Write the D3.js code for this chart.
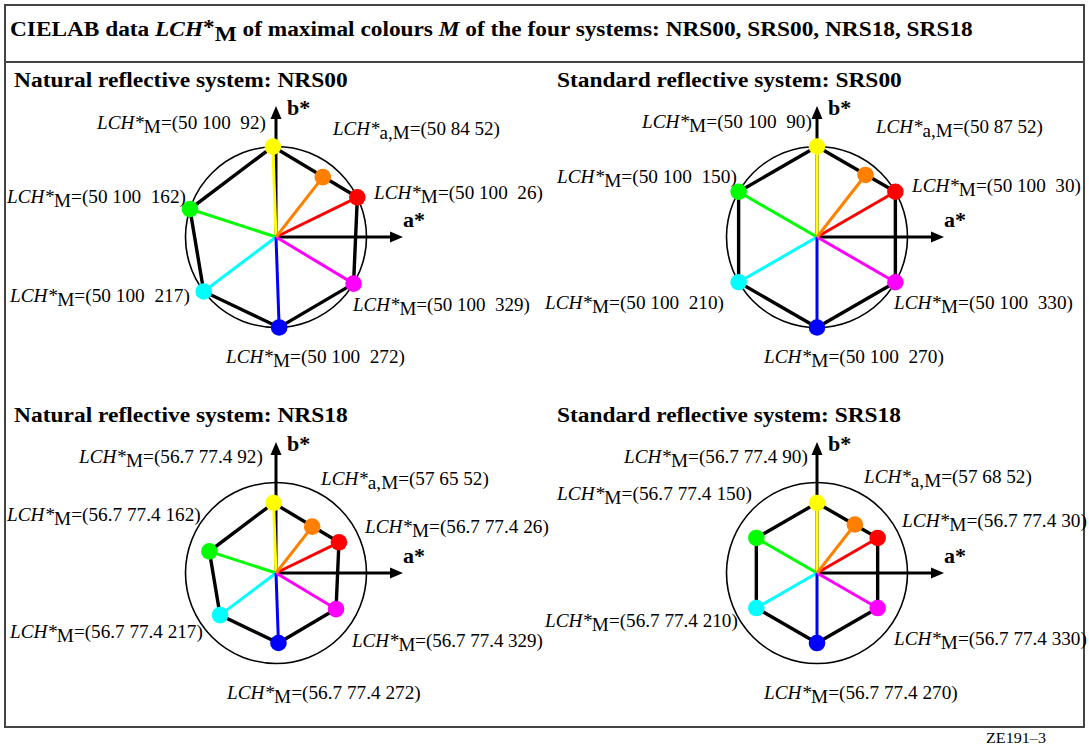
<!DOCTYPE html>
<html><head><meta charset="utf-8">
<script src="https://cdn.jsdelivr.net/npm/d3@7"></script>
<style>
body{margin:0;background:#fff}
text{font-family:"Liberation Serif","Times New Roman",serif; white-space:pre}
</style>
</head><body><svg id="c" width="1089" height="746"></svg>
<script>
// ---------- data ----------
const systems = ["NRS00", "SRS00", "NRS18", "SRS18"];
const systemTitles = ["Natural reflective system: NRS00", "Standard reflective system: SRS00",
                      "Natural reflective system: NRS18", "Standard reflective system: SRS18"];
const colourNames = ["red", "yellow", "green", "cyan", "blue", "magenta"];
const colourFills = ["#ff0000", "#ffff00", "#00ff00", "#00ffff", "#0000ff", "#ff00ff"];
const lightness = [50, 50, 56.7, 56.7];
const chroma = [100, 100, 77.4, 77.4];
const hueNRS00 = [26, 92, 162, 217, 272, 329];
const hueSRS00 = [30, 90, 150, 210, 270, 330];
const hueNRS18 = [26, 92, 162, 217, 272, 329];
const hueSRS18 = [30, 90, 150, 210, 270, 330];
const hues = [hueNRS00, hueSRS00, hueNRS18, hueSRS18];
const valueSeparators = ["  ", "  ", " ", " "];
const orangeL = [50, 50, 57, 57];
const orangeC = [84, 87, 65, 68];
const orangeH = [52, 52, 52, 52];
const orangeFill = "#ff8000";
const circleChroma = 100;

// ---------- layout ----------
const centers = [[276, 237], [817, 237], [276, 573], [817, 573]];
const pxPer100 = 90.5;
const aExtent = 127, bExtent = 131;
const titleBase = [[14, 87, 334], [557, 87, 345], [14, 422, 334], [557, 422, 344]];
// label offsets from centre: [dx, baseline dy, width] in order red,yellow,green,cyan,blue,magenta,orange
const labelLayout = [
  [[98, -38, 169], [-179, -108, 169], [-269, -34, 179], [-266, 65, 180], [-50, 126, 179], [77, 74, 177], [57, -102, 167]],
  [[95, -45, 169], [-175, -109, 170], [-260, -54, 180], [-272, 72, 179], [-53, 126, 180], [77, 72, 179], [59, -104, 167]],
  [[89, -40, 184], [-197, -110, 184], [-269, -52, 194], [-266, 65, 193], [-49, 126, 194], [76, 74, 191], [45, -88, 168]],
  [[85, -46, 185], [-193, -110, 184], [-260, -73, 195], [-272, 54, 193], [-53, 126, 194], [77, 72, 193], [47, -90, 168]]
];

const svg = d3.select("#c");

function fit(sel, x0, w) {
  const len = sel.node().getComputedTextLength();
  const k = w / len;
  sel.attr("transform", `translate(${x0},0) scale(${k},1) translate(${-x0},0)`);
}

// frame
svg.append("rect").attr("x", 5).attr("y", 5).attr("width", 1079).attr("height", 722)
  .attr("fill", "none").attr("stroke", "#444").attr("stroke-width", 2);
svg.append("line").attr("x1", 5).attr("x2", 1084).attr("y1", 62).attr("y2", 62)
  .attr("stroke", "#444").attr("stroke-width", 2);

// main title
const title = svg.append("text").attr("x", 10).attr("y", 36).attr("font-size", 20).attr("font-weight", "bold");
title.append("tspan").text("CIELAB data ");
title.append("tspan").attr("font-style", "italic").text("LCH");
title.append("tspan").attr("dy", -2).text("*");
title.append("tspan").attr("dy", 7).text("M");
title.append("tspan").attr("dy", -5).text(" of maximal colours ");
title.append("tspan").attr("font-style", "italic").text("M");
title.append("tspan").text(" of the four systems: " + systems.join(", "));
fit(title, 10, 963);

// footer code
const foot = svg.append("text").attr("x", 986).attr("y", 743).attr("font-size", 15).text("ZE191\u20133");
fit(foot, 986, 60);

function label(g, x, y, w, sub, value) {
  const t = g.append("text").attr("x", x).attr("y", y).attr("font-size", 18);
  t.append("tspan").attr("font-style", "italic").text("LCH*");
  t.append("tspan").attr("dy", 4).text(sub);
  t.append("tspan").attr("dy", -4).text("=" + value);
  fit(t, x, w);
}

systems.forEach((sys, i) => {
  const [cx, cy] = centers[i];
  const x = d3.scaleLinear().domain([-100, 100]).range([cx - pxPer100, cx + pxPer100]);
  const y = d3.scaleLinear().domain([-100, 100]).range([cy + pxPer100, cy - pxPer100]);
  const g = svg.append("g");
  const rad = Math.PI / 180;
  const pts = hues[i].map(h => [x(chroma[i] * Math.cos(h * rad)), y(chroma[i] * Math.sin(h * rad))]);
  const op = [x(orangeC[i] * Math.cos(orangeH[i] * rad)), y(orangeC[i] * Math.sin(orangeH[i] * rad))];

  // panel title
  const tt = titleBase[i];
  const pt = g.append("text").attr("x", tt[0]).attr("y", tt[1]).attr("font-size", 20)
    .attr("font-weight", "bold").text(systemTitles[i]);
  fit(pt, tt[0], tt[2]);

  // circle
  g.append("circle").attr("cx", x(0)).attr("cy", y(0)).attr("r", x(circleChroma) - x(0))
    .attr("fill", "none").attr("stroke", "#000").attr("stroke-width", 1.6);

  // axes
  g.append("line").attr("x1", x(0)).attr("y1", y(0)).attr("x2", x(0) + aExtent - 10).attr("y2", y(0))
    .attr("stroke", "#000").attr("stroke-width", 3);
  g.append("path").attr("d", `M${x(0) + aExtent},${y(0)} L${x(0) + aExtent - 13},${y(0) - 5.5} L${x(0) + aExtent - 13},${y(0) + 5.5}Z`);
  g.append("line").attr("x1", x(0)).attr("y1", y(0)).attr("x2", x(0)).attr("y2", y(0) - bExtent + 10)
    .attr("stroke", "#000").attr("stroke-width", 3);
  g.append("path").attr("d", `M${x(0)},${y(0) - bExtent} L${x(0) - 5.5},${y(0) - bExtent + 13} L${x(0) + 5.5},${y(0) - bExtent + 13}Z`);
  g.append("text").attr("x", x(0) + aExtent).attr("y", y(0) - 10).attr("font-size", 22)
    .attr("font-weight", "bold").text("a*");
  g.append("text").attr("x", x(0) + 11).attr("y", y(0) - 122).attr("font-size", 22)
    .attr("font-weight", "bold").text("b*");

  // hexagon
  g.append("path").attr("d", d3.line()(pts) + "Z").attr("fill", "none")
    .attr("stroke", "#000").attr("stroke-width", 3.4).attr("stroke-linejoin", "miter");

  // radials
  pts.forEach((p, k) => {
    g.append("line").attr("x1", x(0)).attr("y1", y(0)).attr("x2", p[0]).attr("y2", p[1])
      .attr("stroke", colourFills[k]).attr("stroke-width", 3);
  });
  g.append("line").attr("x1", x(0)).attr("y1", y(0)).attr("x2", op[0]).attr("y2", op[1])
    .attr("stroke", orangeFill).attr("stroke-width", 3);

  // dots
  pts.forEach((p, k) => {
    g.append("circle").attr("cx", p[0]).attr("cy", p[1]).attr("r", 8.3).attr("fill", colourFills[k]);
  });
  g.append("circle").attr("cx", op[0]).attr("cy", op[1]).attr("r", 8.3).attr("fill", orangeFill);

  // labels
  const lay = labelLayout[i];
  hues[i].forEach((h, k) => {
    const [dx, dy, w] = lay[k];
    label(g, cx + dx, cy + dy, w, "M", `(${lightness[i]} ${chroma[i]}${valueSeparators[i]}${h})`);
  });
  const [odx, ody, ow] = lay[6];
  label(g, cx + odx, cy + ody, ow, "a,M", `(${orangeL[i]} ${orangeC[i]} ${orangeH[i]})`);
});
</script>
</body></html>
